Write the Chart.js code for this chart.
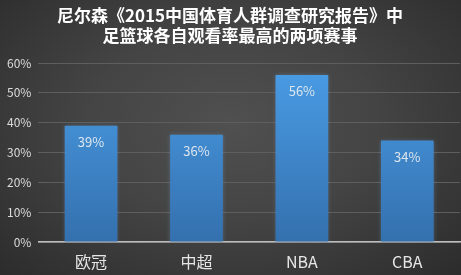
<!DOCTYPE html>
<html>
<head>
<meta charset="utf-8">
<script src="https://cdn.jsdelivr.net/npm/chart.js@4"></script>
<style>
  html, body { margin: 0; padding: 0; }
  body {
    width: 461px; height: 275px; overflow: hidden;
    background: radial-gradient(ellipse at 50% 45%, #505050 0%, #444 45%, #2c2c2c 100%);
  }
  #wrap { position: relative; width: 461px; height: 275px; }
</style>
</head>
<body>
<div id="wrap"><canvas id="chart1" width="461" height="275"></canvas></div>
<script>
// data
var categories = ['欧冠', '中超', 'NBA', 'CBA'];
var ratings = [0.39, 0.36, 0.56, 0.34];
var titleLines = ['尼尔森《2015中国体育人群调查研究报告》中', '足篮球各自观看率最高的两项赛事'];

var cjk = '"Microsoft YaHei", "Noto Sans CJK SC", sans-serif';

// value labels inside the bars
var barLabels = {
  id: 'barLabels',
  afterDatasetsDraw: function(chart) {
    var ctx = chart.ctx;
    var meta = chart.getDatasetMeta(0);
    ctx.save();
    ctx.font = '13px ' + cjk;
    ctx.fillStyle = '#dde6ee';
    ctx.textAlign = 'center';
    ctx.textBaseline = 'middle';
    meta.data.forEach(function(bar, i) {
      ctx.fillText(Math.round(ratings[i] * 100) + '%', bar.x, bar.y + 16);
    });
    ctx.restore();
  }
};

// soft glow round the bars
var barGlow = {
  id: 'barGlow',
  beforeDatasetsDraw: function(chart) {
    chart.ctx.save();
    chart.ctx.shadowColor = 'rgba(120, 170, 220, 0.35)';
    chart.ctx.shadowBlur = 4;
  },
  afterDatasetsDraw: function(chart) {
    chart.ctx.restore();
  }
};

var ctx = document.getElementById('chart1').getContext('2d');
var myChart = new Chart(ctx, {
  type: 'bar',
  data: {
    labels: categories,
    datasets: [{
      label: '观看率',
      data: ratings,
      backgroundColor: function(c) {
        var area = c.chart.chartArea;
        if (!area) return '#3d86cf';
        var g = c.chart.ctx.createLinearGradient(0, area.top, 0, area.bottom);
        g.addColorStop(0, '#4a9de6');
        g.addColorStop(1, '#3470ae');
        return g;
      },
      borderWidth: 0,
      barPercentage: 0.5,
      categoryPercentage: 1.0
    }]
  },
  options: {
    responsive: false,
    animation: false,
    layout: { padding: { left: 0, right: 1, top: 0, bottom: 0 } },
    plugins: {
      legend: { display: false },
      tooltip: { enabled: false },
      title: {
        display: true,
        text: titleLines,
        color: '#ffffff',
        font: { family: cjk, size: 17, weight: 'bold', lineHeight: 1.15 },
        padding: { top: 6, bottom: 18 }
      }
    },
    scales: {
      x: {
        grid: { display: false, drawTicks: false },
        border: { color: '#bdbdbd', width: 1.5 },
        ticks: { color: '#e6e6e6', font: { family: cjk, size: 16 }, padding: 10 },
        afterFit: function(scale) { scale.height = 33; }
      },
      y: {
        min: 0,
        max: 0.6,
        grid: { color: '#5e5e5e', drawTicks: false, lineWidth: 1 },
        border: { display: false },
        ticks: {
          stepSize: 0.1,
          color: '#dcdcdc',
          font: { family: cjk, size: 12 },
          padding: 7,
          callback: function(v) { return Math.round(v * 100) + '%'; }
        }
      }
    }
  },
  plugins: [barGlow, barLabels]
});
</script>
</body>
</html>
